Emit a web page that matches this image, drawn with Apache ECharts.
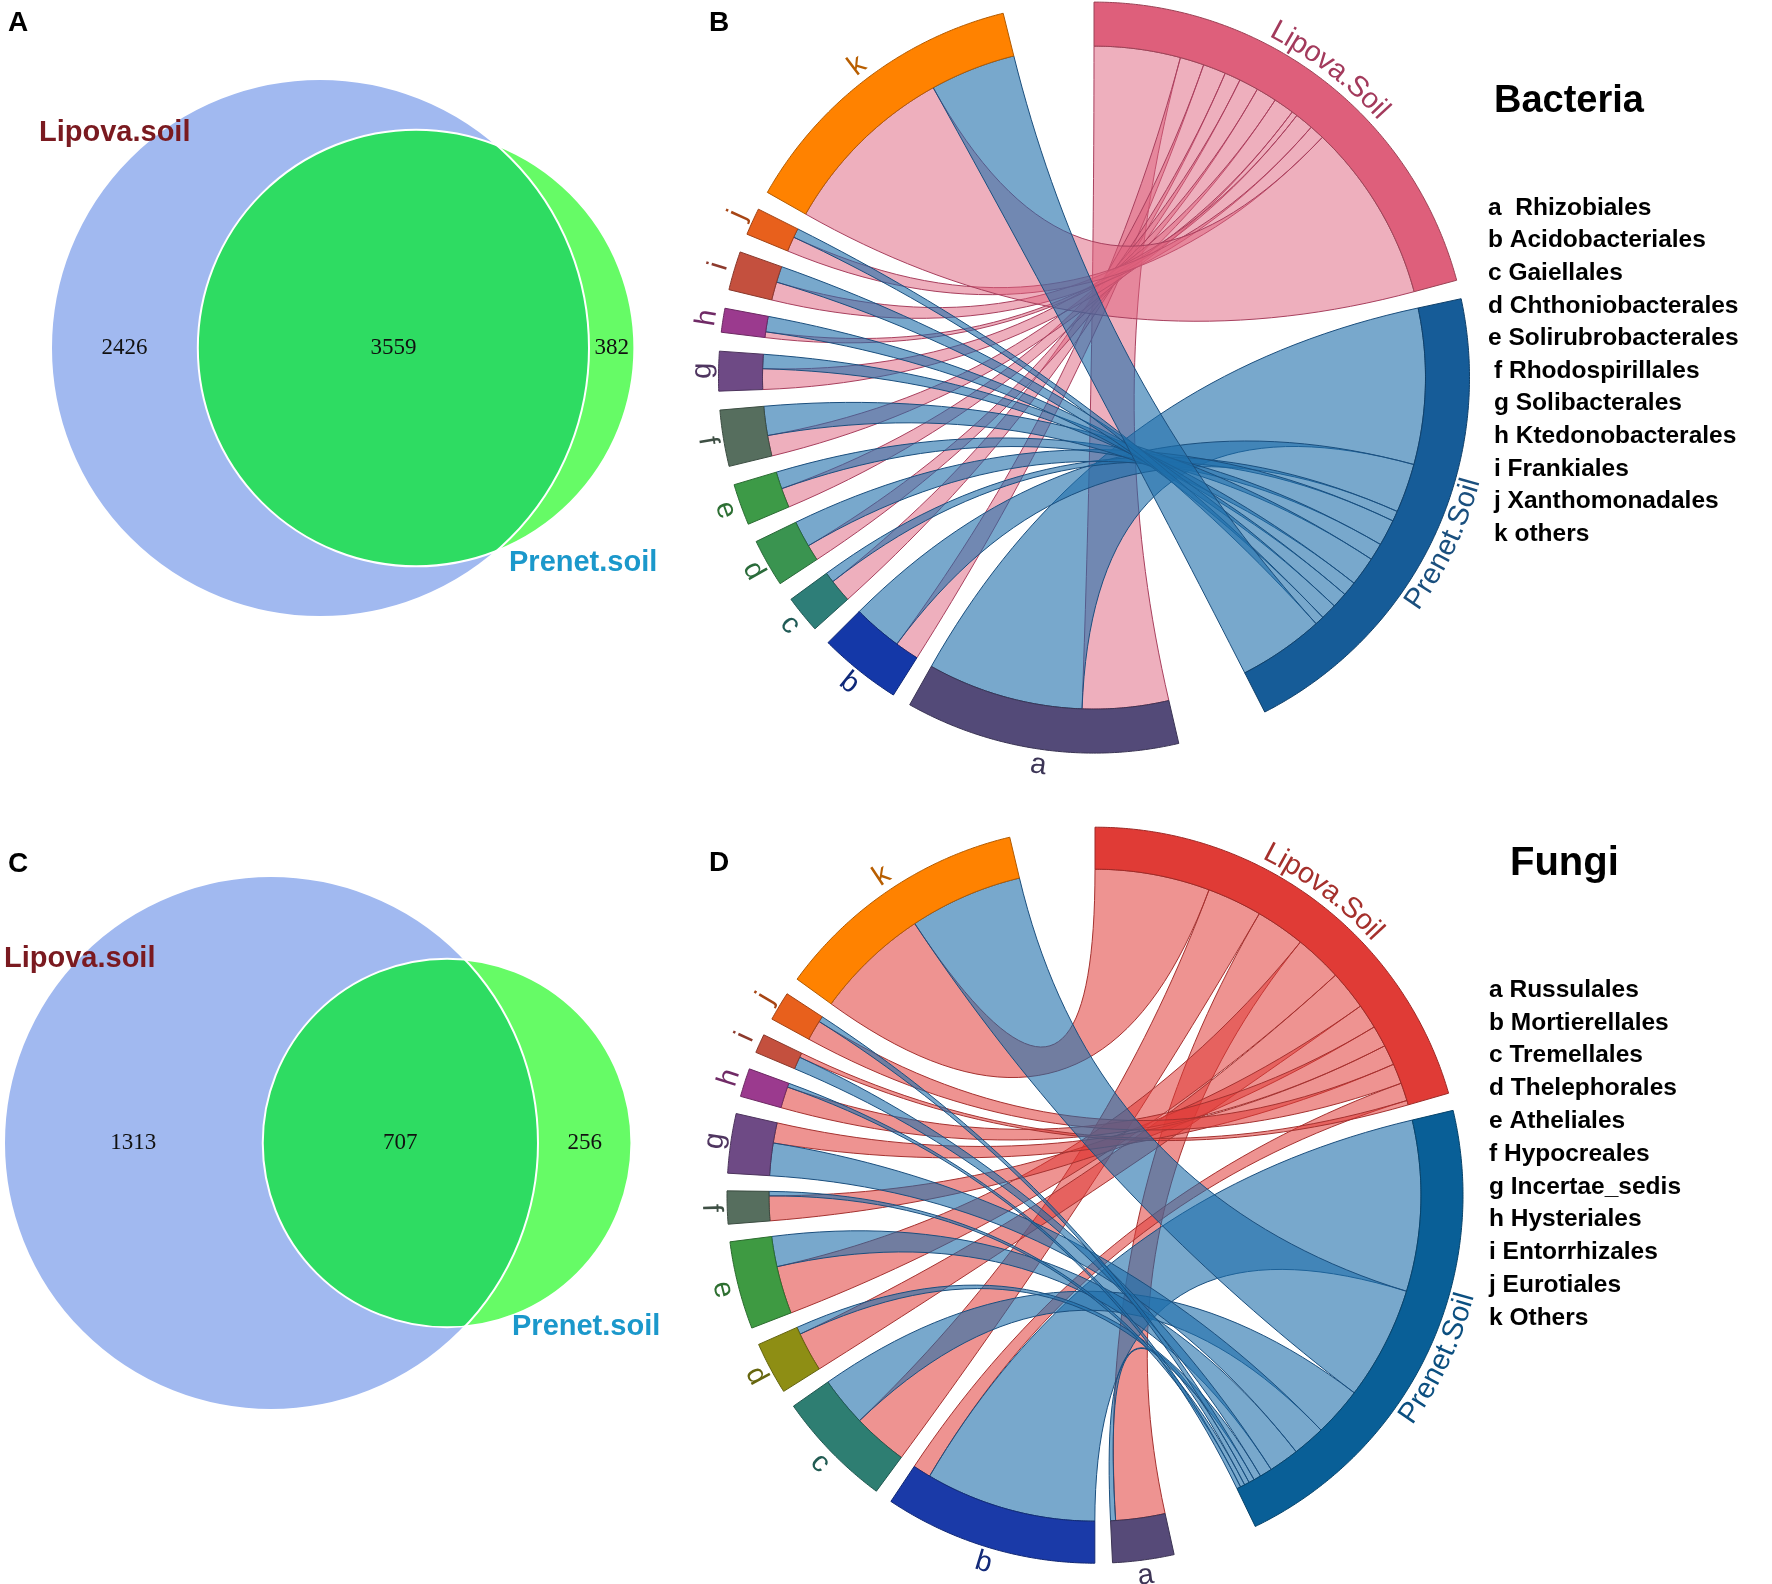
<!DOCTYPE html>
<html>
<head>
<meta charset="utf-8">
<script src="https://cdn.jsdelivr.net/npm/echarts@6.0.0/dist/echarts.min.js"></script>
<style>
html,body{margin:0;padding:0;background:#ffffff;}
#main{width:1772px;height:1584px;}
</style>
</head>
<body>
<div id="main"></div>
<script>
// ================= DATA =================
// Venn counts: [only Lipova, shared, only Prenet]
const vennSetNames = ['Lipova.soil', 'Prenet.soil'];
const vennBacteria = [2426, 3559, 382];
const vennFungi = [1313, 707, 256];

// Chord diagrams: link widths between taxa (a..k) and the two soils
const sampleNames = ['Lipova.Soil', 'Prenet.Soil'];
const taxonLetters = ['a', 'b', 'c', 'd', 'e', 'f', 'g', 'h', 'i', 'j', 'k'];

const bacteriaOrders = ['Rhizobiales', 'Acidobacteriales', 'Gaiellales', 'Chthoniobacterales',
  'Solirubrobacterales', 'Rhodospirillales', 'Solibacterales', 'Ktedonobacterales',
  'Frankiales', 'Xanthomonadales', 'others'];
const bacteriaLipova = [15.1, 4.2, 4.0, 2.8, 3.4, 3.6, 3.6, 1.0, 3.2, 2.6, 31.4];
const bacteriaPrenet = [27.3, 8.6, 1.8, 4.6, 3.0, 5.1, 2.5, 2.7, 2.8, 1.6, 15.0];

const fungiOrders = ['Russulales', 'Mortierellales', 'Tremellales', 'Thelephorales',
  'Atheliales', 'Hypocreales', 'Incertae_sedis', 'Hysteriales', 'Entorrhizales',
  'Eurotiales', 'Others'];
const fungiLipova = [8.8, 3.2, 9.8, 7.0, 8.5, 4.4, 3.6, 3.8, 0.8, 3.6, 20.5];
const fungiPrenet = [0.9, 30.5, 8.8, 1.3, 5.4, 0.8, 5.8, 0.7, 2.2, 1.0, 20.2];

// ================= STYLE / LAYOUT =================
const FONT = '"Liberation Sans", Arial, Helvetica, sans-serif';
const SERIF = '"Liberation Serif", "Times New Roman", serif';

const vennPanels = [
  { counts: vennBacteria, cx: 320, cy: 348, rBig: 269, labA: [39, 133], labB: [509, 563] },
  { counts: vennFungi, cx: 271, cy: 1143, rBig: 267, labA: [4, 959], labB: [512, 1327] }
];
const VENN_BLUE = '#A1B9F0', VENN_GREEN = '#66FB66', VENN_SHARED = '#2EDC62';

const bacteriaTaxaColors = ['#534A78', '#1438A8', '#2E7E78', '#3A9450', '#3D9A47', '#566E5E',
  '#6E4A85', '#9B3A8E', '#C4503E', '#E8601C', '#FF8200'];
const fungiTaxaColors = ['#564A78', '#1A3AA8', '#2E7E72', '#8E8E14', '#3E9A42', '#566E5E',
  '#6E4A85', '#9B3A8E', '#C4503E', '#E8601C', '#FF8200'];

const chordPanels = [
  {
    lip: bacteriaLipova, pre: bacteriaPrenet, center: [1094, 377.6], rOut: 375.5, rIn: 331.5,
    sort: false, smallGap: 2.9, bigGap: 14,
    sampleColors: ['#DE5F7B', '#165C98'], taxaColors: bacteriaTaxaColors,
    linkFill: ['rgba(222,95,123,0.5)', 'rgba(30,110,170,0.6)'],
    linkStroke: ['#A8405E', '#1B4F7E'],
    sampleLabelColors: ['#A33A5C', '#1A4F7E']
  },
  {
    lip: fungiLipova, pre: fungiPrenet, center: [1095, 1195.2], rOut: 368, rIn: 326,
    sort: true, smallGap: 2.76, bigGap: 13.4,
    sampleColors: ['#E03B36', '#095F97'], taxaColors: fungiTaxaColors,
    linkFill: ['rgba(224,59,54,0.55)', 'rgba(30,110,170,0.6)'],
    linkStroke: ['#A53230', '#1B4F7E'],
    sampleLabelColors: ['#A5302C', '#0B4F80']
  }
];

// ================= HELPERS =================
function sum(a) { return a.reduce((s, v) => s + v, 0); }
function shade(hex, f) {
  const n = parseInt(hex.slice(1), 16);
  const r = (n >> 16) & 255, g = (n >> 8) & 255, b = n & 255;
  return 'rgb(' + Math.round(r * f) + ',' + Math.round(g * f) + ',' + Math.round(b * f) + ')';
}
const mctx = document.createElement('canvas').getContext('2d');
function textW(str, font) { mctx.font = font; return mctx.measureText(str).width; }

function lensArea(d, r1, r2) {
  if (d >= r1 + r2) return 0;
  if (d <= Math.abs(r1 - r2)) return Math.PI * Math.min(r1, r2) ** 2;
  const a1 = Math.acos((d * d + r1 * r1 - r2 * r2) / (2 * d * r1));
  const a2 = Math.acos((d * d + r2 * r2 - r1 * r1) / (2 * d * r2));
  return r1 * r1 * a1 + r2 * r2 * a2 -
    0.5 * Math.sqrt((-d + r1 + r2) * (d + r1 - r2) * (d - r1 + r2) * (d + r1 + r2));
}
// area-proportional two-set Venn geometry
function vennGeom(counts, rBig) {
  const nA = counts[0] + counts[1], nB = counts[2] + counts[1];
  const r1 = rBig, r2 = rBig * Math.sqrt(nB / nA);
  const target = counts[1] / nA * Math.PI * r1 * r1;
  let lo = Math.abs(r1 - r2) + 1e-6, hi = r1 + r2;
  for (let i = 0; i < 80; i++) {
    const mid = (lo + hi) / 2;
    if (lensArea(mid, r1, r2) > target) lo = mid; else hi = mid;
  }
  return { r1, r2, d: (lo + hi) / 2 };
}

// chord layout: sectors [Lipova, Prenet, a..k]
function chordLayout(p) {
  const n = p.lip.length;
  const sect = [sum(p.lip), sum(p.pre)].concat(p.lip.map((v, i) => v + p.pre[i]));
  const unit = (360 - p.smallGap * n - p.bigGap * 2) / sum(sect);
  const sectors = [];
  let a = 0;
  sect.forEach((v, i) => {
    sectors.push({ a1: a, a2: a + v * unit });
    a += v * unit + ((i === 1 || i === n + 1) ? p.bigGap : p.smallGap);
  });
  const links = [];
  for (let t = 0; t < n; t++) {
    links.push({ t, s: 0, v: p.lip[t] });
    links.push({ t, s: 1, v: p.pre[t] });
  }
  [0, 1].forEach(s => {
    let ls = links.filter(l => l.s === s);
    if (p.sort) ls = ls.slice().sort((x, y) => y.v - x.v);
    let b = sectors[s].a1;
    ls.forEach(l => { l.s1 = b; b += l.v * unit; l.s2 = b; });
  });
  for (let t = 0; t < n; t++) {
    let ls = links.filter(l => l.t === t);
    if (p.sort) ls = ls.slice().sort((x, y) => y.v - x.v);
    let b = sectors[t + 2].a1;
    ls.forEach(l => { l.t1 = b; b += l.v * unit; l.t2 = b; });
  }
  const ordered = links.filter(l => l.s === 0).concat(links.filter(l => l.s === 1));
  return { sectors, links: ordered };
}

function arcPts(api, r, a1, a2) {
  const n = Math.max(2, Math.ceil(Math.abs(a2 - a1) / 0.4) + 1);
  const pts = [];
  for (let k = 0; k < n; k++) pts.push(api.coord([r, a1 + (a2 - a1) * k / (n - 1)]));
  return pts;
}
function bez(p0, c, p2) {
  const pts = [];
  for (let k = 1; k < 40; k++) {
    const t = k / 40, u = 1 - t;
    pts.push([u * u * p0[0] + 2 * u * t * c[0] + t * t * p2[0],
              u * u * p0[1] + 2 * u * t * c[1] + t * t * p2[1]]);
  }
  return pts;
}

// ================= SERIES =================
function chordSeries(p, polarIndex) {
  const lay = chordLayout(p);
  const colors = p.sampleColors.concat(p.taxaColors);
  const labelFont = '29px ' + FONT;
  const data = [];
  lay.links.forEach((l, i) => data.push([p.rIn, (l.t1 + l.t2) / 2, 0, i]));
  lay.sectors.forEach((s, i) => data.push([p.rOut, (s.a1 + s.a2) / 2, 1, i]));
  lay.sectors.forEach((s, i) => data.push([p.rOut, (s.a1 + s.a2) / 2, 2, i]));
  return {
    type: 'custom', coordinateSystem: 'polar', polarIndex, silent: true, animation: false,
    data,
    renderItem: function (params, api) {
      const kind = api.value(2), idx = api.value(3);
      if (kind === 0) {
        const l = lay.links[idx];
        const c = api.coord([0, 0]);
        const A = arcPts(api, p.rIn, l.t1, l.t2);
        const B = arcPts(api, p.rIn, l.s1, l.s2);
        const pts = A.concat(bez(A[A.length - 1], c, B[0]), B, bez(B[B.length - 1], c, A[0]));
        return { type: 'polygon', shape: { points: pts },
          style: { fill: p.linkFill[l.s], stroke: p.linkStroke[l.s], lineWidth: 1 } };
      }
      const s = lay.sectors[idx];
      if (kind === 1) {
        const pts = arcPts(api, p.rOut, s.a1, s.a2).concat(arcPts(api, p.rIn, s.a2, s.a1));
        return { type: 'polygon', shape: { points: pts },
          style: { fill: colors[idx], stroke: shade(colors[idx], 0.7), lineWidth: 1 } };
      }
      // labels along the arc
      const text = idx < 2 ? sampleNames[idx] : taxonLetters[idx - 2];
      const fill = idx < 2 ? p.sampleLabelColors[idx] : shade(colors[idx], 0.72);
      const mid = (s.a1 + s.a2) / 2;
      const rL = p.rOut + 16;
      const upper = (mid > 270 || mid < 90);
      const chars = text.split('');
      const ws = chars.map(ch => textW(ch, labelFont));
      const tot = sum(ws);
      const dpp = 180 / (Math.PI * rL);
      let cum = 0;
      const children = chars.map((ch, k) => {
        const off = (cum + ws[k] / 2 - tot / 2) * dpp;
        cum += ws[k];
        const ang = upper ? mid + off : mid - off;
        const pt = api.coord([rL, ang]);
        const rot = upper ? -ang * Math.PI / 180 : -(ang - 180) * Math.PI / 180;
        return { type: 'text', x: pt[0], y: pt[1], rotation: rot,
          style: { text: ch, fill, font: labelFont, align: 'center', verticalAlign: 'middle' } };
      });
      return { type: 'group', children };
    }
  };
}

function vennSeries() {
  const geoms = vennPanels.map(v => vennGeom(v.counts, v.rBig));
  return {
    type: 'custom', coordinateSystem: 'cartesian2d', xAxisIndex: 0, yAxisIndex: 0,
    silent: true, animation: false,
    data: vennPanels.map((v, i) => [v.cx, v.cy, i]),
    renderItem: function (params, api) {
      const i = api.value(2);
      const v = vennPanels[i], g = geoms[i];
      const cx = api.value(0), cy = api.value(1);
      const c1 = api.coord([cx, cy]), c2 = api.coord([cx + g.d, cy]);
      const R1 = api.size([g.r1, 0])[0], R2 = api.size([g.r2, 0])[0];
      const al1 = Math.acos((g.d * g.d + g.r1 * g.r1 - g.r2 * g.r2) / (2 * g.d * g.r1));
      const al2 = Math.acos((g.d * g.d + g.r2 * g.r2 - g.r1 * g.r1) / (2 * g.d * g.r2));
      const lens = [];
      for (let k = 0; k <= 120; k++) {
        const f = -al1 + 2 * al1 * k / 120;
        lens.push(api.coord([cx + g.r1 * Math.cos(f), cy + g.r1 * Math.sin(f)]));
      }
      for (let k = 1; k < 120; k++) {
        const f = Math.PI - al2 + 2 * al2 * k / 120;
        lens.push(api.coord([cx + g.d + g.r2 * Math.cos(f), cy + g.r2 * Math.sin(f)]));
      }
      const numFont = '23px ' + SERIF;
      const xs = [
        (cx - g.r1 + cx + g.d - g.r2) / 2,
        (cx + g.d - g.r2 + cx + g.r1) / 2,
        (cx + g.r1 + cx + g.d + g.r2) / 2
      ];
      const nums = v.counts.map((n, k) => {
        const pt = api.coord([xs[k], cy]);
        return { type: 'text', x: pt[0], y: pt[1],
          style: { text: String(n), font: numFont, fill: '#111', align: 'center', verticalAlign: 'middle' } };
      });
      return { type: 'group', children: [
        { type: 'circle', shape: { cx: c1[0], cy: c1[1], r: R1 }, style: { fill: VENN_BLUE } },
        { type: 'circle', shape: { cx: c2[0], cy: c2[1], r: R2 }, style: { fill: VENN_GREEN } },
        { type: 'polygon', shape: { points: lens }, style: { fill: VENN_SHARED } },
        { type: 'circle', shape: { cx: c1[0], cy: c1[1], r: R1 }, style: { fill: 'none', stroke: '#ffffff', lineWidth: 2 } },
        { type: 'circle', shape: { cx: c2[0], cy: c2[1], r: R2 }, style: { fill: 'none', stroke: '#ffffff', lineWidth: 2 } }
      ].concat(nums) };
    }
  };
}

// ================= TEXT (graphic) =================
const graphics = [];
function addText(x, y, text, font, fill) {
  graphics.push({ type: 'text', x, y, silent: true, z: 100,
    style: { text, font, fill, align: 'left', verticalAlign: 'middle' } });
}
addText(8, 23, 'A', 'bold 28px ' + FONT, '#000');
addText(709, 23, 'B', 'bold 28px ' + FONT, '#000');
addText(8, 864, 'C', 'bold 28px ' + FONT, '#000');
addText(709, 863, 'D', 'bold 28px ' + FONT, '#000');
vennPanels.forEach(v => {
  addText(v.labA[0], v.labA[1], vennSetNames[0], 'bold 29px ' + FONT, '#7A1A20');
  addText(v.labB[0], v.labB[1], vennSetNames[1], 'bold 29px ' + FONT, '#1B98CB');
});
addText(1494, 102, 'Bacteria', 'bold 38px ' + FONT, '#000');
addText(1510, 864, 'Fungi', 'bold 40px ' + FONT, '#000');
const legendFont = 'bold 24.5px ' + FONT;
bacteriaOrders.forEach((name, i) => {
  const sep = i === 0 ? '  ' : ' ';
  addText(i < 5 ? 1488 : 1494, 208 + i * 32.6, taxonLetters[i] + sep + name, legendFont, '#000');
});
fungiOrders.forEach((name, i) => {
  addText(1489, 990 + i * 32.8, taxonLetters[i] + ' ' + name, legendFont, '#000');
});

// ================= OPTION =================
const option = {
  backgroundColor: '#ffffff',
  animation: false,
  grid: [{ left: 0, top: 0, width: 700, height: 1584 }],
  xAxis: [{ gridIndex: 0, type: 'value', min: 0, max: 700, show: false }],
  yAxis: [{ gridIndex: 0, type: 'value', min: 0, max: 1584, inverse: true, show: false }],
  polar: chordPanels.map(p => ({ center: p.center, radius: 400 })),
  angleAxis: chordPanels.map((p, i) => ({ polarIndex: i, type: 'value', min: 0, max: 360,
    startAngle: 90, clockwise: true, show: false })),
  radiusAxis: chordPanels.map((p, i) => ({ polarIndex: i, type: 'value', min: 0, max: 400, show: false })),
  series: [vennSeries()].concat(chordPanels.map((p, i) => chordSeries(p, i))),
  graphic: graphics
};
const chart = echarts.init(document.getElementById('main'), null, { renderer: 'canvas' });
chart.setOption(option);
</script>
</body>
</html>
